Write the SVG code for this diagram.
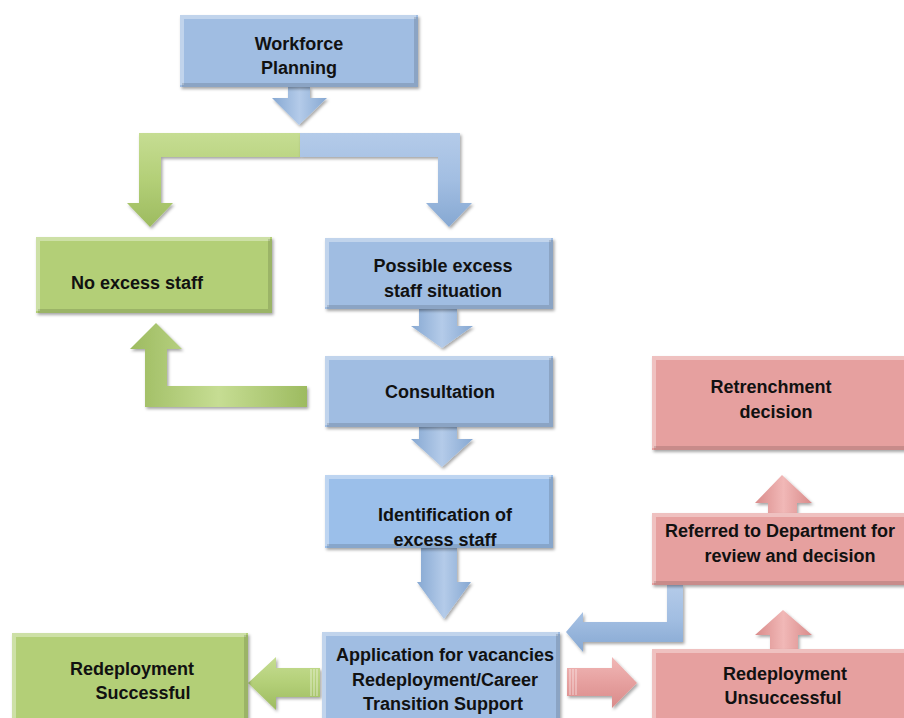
<svg xmlns="http://www.w3.org/2000/svg" width="904" height="718" viewBox="0 0 904 718">
<defs>
<filter id="sh" x="-10%" y="-10%" width="125%" height="130%">
<feDropShadow dx="1.5" dy="2" stdDeviation="1.5" flood-color="#000" flood-opacity="0.35"/>
</filter>
<linearGradient id="gbV" x1="0" y1="0" x2="1" y2="0">
<stop offset="0" stop-color="#86a8d2"/><stop offset="0.5" stop-color="#b4cbe9"/><stop offset="1" stop-color="#86a8d2"/>
</linearGradient>
<linearGradient id="gbH" x1="0" y1="0" x2="0" y2="1">
<stop offset="0" stop-color="#b4cbe9"/><stop offset="0.5" stop-color="#a2bee2"/><stop offset="1" stop-color="#86a8d2"/>
</linearGradient>
<linearGradient id="ggV" x1="0" y1="0" x2="1" y2="0">
<stop offset="0" stop-color="#9dbb60"/><stop offset="0.5" stop-color="#c6dd93"/><stop offset="1" stop-color="#9dbb60"/>
</linearGradient>
<linearGradient id="ggH" x1="0" y1="0" x2="0" y2="1">
<stop offset="0" stop-color="#c6dd93"/><stop offset="0.5" stop-color="#b3cf77"/><stop offset="1" stop-color="#9dbb60"/>
</linearGradient>
<linearGradient id="gpV" x1="0" y1="0" x2="1" y2="0">
<stop offset="0" stop-color="#d98b8a"/><stop offset="0.5" stop-color="#f1b8b7"/><stop offset="1" stop-color="#d98b8a"/>
</linearGradient>
<linearGradient id="gpH" x1="0" y1="0" x2="0" y2="1">
<stop offset="0" stop-color="#f1b8b7"/><stop offset="0.5" stop-color="#e6a09f"/><stop offset="1" stop-color="#d98b8a"/>
</linearGradient>
</defs>
<style>
.blue{fill:#a0bde2}
.blue2{fill:#9bbfea}
.green{fill:#b3cf77}
.pink{fill:#e6a09f}
.box{filter:url(#sh)}
.hl{fill:none;stroke:#fff;stroke-opacity:0.35;stroke-width:4}
.dk{fill:none;stroke:#000;stroke-opacity:0.13;stroke-width:4}
.t{font-family:"Liberation Sans",Arial,sans-serif;font-weight:bold;font-size:18px;fill:#111;text-anchor:middle}
.arr{filter:url(#sh)}
.stripe{stroke:#fff;stroke-opacity:0.5;stroke-width:1.2}
</style>

<g id="connectors">
<polygon class="arr" fill="url(#gbV)" points="288,87 310,87 310,98 327,98 299,125 272,98 288,98"/>
<polygon class="arr" fill="url(#ggH)" points="300,133 139,133 139,203 127,203 150,227 173,203 161,203 161,157 300,157"/>
<polygon class="arr" fill="url(#gbH)" points="300,133 460,133 460,203 472,203 449,227 426,203 438,203 438,157 300,157"/>
<polygon class="arr" fill="url(#gbV)" points="419,309 457,309 457,326 473,326 442,348 411,326 419,326"/>
<polygon class="arr" fill="url(#gbV)" points="419,427 457,427 457,439 473,439 442,467 411,439 419,439"/>
<polygon class="arr" fill="url(#gbV)" points="421,548 457,548 457,582 471,582 444,619 417,582 421,582"/>
<polygon class="arr" fill="url(#ggV)" points="145,407 145,349 130,349 156,323 182,349 167,349 167,386 307,386 307,407"/>
<polygon class="arr" fill="url(#ggH)" points="320,668 276,668 276,657 248,683 276,710 276,697 320,697"/>
<g class="stripe"><line x1="311" y1="669" x2="311" y2="696"/><line x1="314" y1="669" x2="314" y2="696"/><line x1="317" y1="669" x2="317" y2="696"/></g>
<polygon class="arr" fill="url(#gpH)" points="567,668 612,668 612,657 637,683 612,708 612,696 567,696"/>
<g class="stripe"><line x1="570" y1="669" x2="570" y2="695"/><line x1="573" y1="669" x2="573" y2="695"/><line x1="576" y1="669" x2="576" y2="695"/></g>
<polygon class="arr" fill="url(#gpV)" points="770,649 770,635 755,635 783,610 812,635 798,635 798,649"/>
<polygon class="arr" fill="url(#gpV)" points="768,513 768,503 755,503 782,475 812,503 797,503 797,513"/>
<polygon class="arr" fill="url(#gbH)" points="667,585 683,585 683,642 583,642 583,652 566,632 583,612 583,622 667,622"/>
</g>

<g id="workforce-planning">
<rect class="box blue" x="180" y="15" width="238" height="72"/>
<path class="hl" d="M182,85 V17 H416"/><path class="dk" d="M182,85 H416 V17"/>
<text class="t" x="299" y="50">Workforce</text>
<text class="t" x="299" y="74">Planning</text>
</g>

<g id="no-excess-staff">
<rect class="box green" x="36" y="237" width="236" height="76"/>
<path class="hl" d="M38,311 V239 H270"/><path class="dk" d="M38,311 H270 V239"/>
<text class="t" x="137" y="289">No excess staff</text>
</g>

<g id="possible-excess">
<rect class="box blue" x="325" y="238" width="228" height="71"/>
<path class="hl" d="M327,307 V240 H551"/><path class="dk" d="M327,307 H551 V240"/>
<text class="t" x="443" y="272">Possible excess</text>
<text class="t" x="443" y="297">staff situation</text>
</g>

<g id="consultation">
<rect class="box blue" x="325" y="356" width="228" height="71"/>
<path class="hl" d="M327,425 V358 H551"/><path class="dk" d="M327,425 H551 V358"/>
<text class="t" x="440" y="398">Consultation</text>
</g>

<g id="identification">
<rect class="box blue2" x="325" y="475" width="228" height="73"/>
<path class="hl" d="M327,546 V477 H551"/><path class="dk" d="M327,546 H551 V477"/>
<text class="t" x="445" y="521">Identification of</text>
<text class="t" x="445" y="546">excess staff</text>
</g>

<g id="application">
<rect class="box blue" x="322" y="632" width="238" height="100"/>
<path class="hl" d="M324,730 V634 H558"/><path class="dk" d="M324,730 H558 V634"/>
<text class="t" x="445" y="661">Application for vacancies</text>
<text class="t" x="445" y="686">Redeployment/Career</text>
<text class="t" x="443" y="710">Transition Support</text>
</g>

<g id="redeployment-successful">
<rect class="box green" x="12" y="633" width="236" height="100"/>
<path class="hl" d="M14,731 V635 H246"/><path class="dk" d="M14,731 H246 V635"/>
<text class="t" x="132" y="675">Redeployment</text>
<text class="t" x="143" y="699">Successful</text>
</g>

<g id="redeployment-unsuccessful">
<rect class="box pink" x="652" y="649" width="260" height="100"/>
<path class="hl" d="M654,747 V651 H910"/><path class="dk" d="M654,747 H910 V651"/>
<text class="t" x="785" y="680">Redeployment</text>
<text class="t" x="783" y="704">Unsuccessful</text>
</g>

<g id="referred">
<rect class="box pink" x="652" y="513" width="260" height="72"/>
<path class="hl" d="M654,583 V515 H910"/><path class="dk" d="M654,583 H910 V515"/>
<text class="t" x="780" y="537">Referred to Department for</text>
<text class="t" x="790" y="562">review and decision</text>
</g>

<g id="retrenchment">
<rect class="box pink" x="652" y="356" width="260" height="94"/>
<path class="hl" d="M654,448 V358 H910"/><path class="dk" d="M654,448 H910 V358"/>
<text class="t" x="771" y="393">Retrenchment</text>
<text class="t" x="776" y="418">decision</text>
</g>
</svg>
